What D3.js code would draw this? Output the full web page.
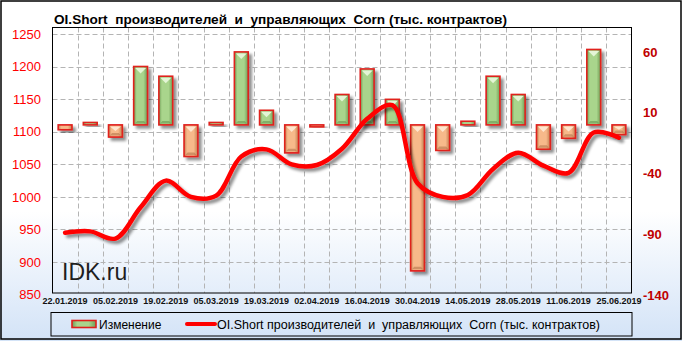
<!DOCTYPE html>
<html><head><meta charset="utf-8">
<script src="https://cdn.jsdelivr.net/npm/d3@7"></script>
<style>body{margin:0;padding:0;overflow:hidden;background:#fff}svg{display:block}</style>
</head><body>
<svg id="chart" width="682" height="341"></svg>
<script>
const dates = ["22.01.2019","29.01.2019","05.02.2019","12.02.2019","19.02.2019","26.02.2019","05.03.2019","12.03.2019","19.03.2019","26.03.2019","02.04.2019","09.04.2019","16.04.2019","23.04.2019","30.04.2019","07.05.2019","14.05.2019","21.05.2019","28.05.2019","04.06.2019","11.06.2019","18.06.2019","25.06.2019"];
const changeValues = [-4, 2, -10, 48, 40, -26, 2, 60, 12, -23, -1, 25, 46, 21, -120, -21, 3, 40, 25, -20, -11, 62, -8];
const oiShortValues = [945, 947, 936, 984, 1025, 1000, 1002, 1062, 1073, 1050, 1049, 1074, 1120, 1141, 1021, 1000, 1003, 1043, 1068, 1048, 1037, 1099, 1091];
const xTickLabels = ["22.01.2019","05.02.2019","19.02.2019","05.03.2019","19.03.2019","02.04.2019","16.04.2019","30.04.2019","14.05.2019","28.05.2019","11.06.2019","25.06.2019"];
const leftTicks = [850, 900, 950, 1000, 1050, 1100, 1150, 1200, 1250];
const rightTicks = [-140, -90, -40, 10, 60];
const titleText = "OI.Short  производителей  и  управляющих  Corn (тыс. контрактов)";
const legendBarText = "Изменение";
const legendLineText = "OI.Short производителей  и  управляющих  Corn (тыс. контрактов)";

const svg = d3.select("#chart");
const defs = svg.append("defs");

// background gradient
const bg = defs.append("linearGradient").attr("id","bg").attr("x1",0).attr("y1",0).attr("x2",0).attr("y2",1);
bg.append("stop").attr("offset","0%").attr("stop-color","#ffffff");
bg.append("stop").attr("offset","62%").attr("stop-color","#ffffff");
bg.append("stop").attr("offset","100%").attr("stop-color","#d3e3f7");
svg.append("rect").attr("x",0).attr("y",0).attr("width",682).attr("height",341).attr("fill","url(#bg)");
svg.append("rect").attr("x",1).attr("y",1).attr("width",680).attr("height",338)
  .attr("fill","none").attr("stroke","#000").attr("stroke-width",1.5);

// bar gradients
function hgrad(id, edge, mid){
  const g = defs.append("linearGradient").attr("id",id).attr("x1",0).attr("y1",0).attr("x2",1).attr("y2",0);
  g.append("stop").attr("offset","0%").attr("stop-color",edge);
  g.append("stop").attr("offset","22%").attr("stop-color",mid);
  g.append("stop").attr("offset","70%").attr("stop-color",mid);
  g.append("stop").attr("offset","100%").attr("stop-color",edge);
}
hgrad("gpos","#6f9c55","#a9d58c");
hgrad("gneg","#c27e50","#f7b98a");

const shadow = defs.append("filter").attr("id","shadow").attr("x","-50%").attr("y","-50%").attr("width","200%").attr("height","200%");
shadow.append("feGaussianBlur").attr("in","SourceAlpha").attr("stdDeviation",1.6).attr("result","b");
shadow.append("feOffset").attr("in","b").attr("dx",3).attr("dy",3).attr("result","o");
shadow.append("feComponentTransfer").attr("in","o").attr("result","oa")
  .append("feFuncA").attr("type","linear").attr("slope",0.45);
const fm = shadow.append("feMerge");
fm.append("feMergeNode").attr("in","oa");
fm.append("feMergeNode").attr("in","SourceGraphic");

const plot = {left:52.5, right:631.5, top:27.5, bottom:293};

const x = d3.scaleBand().domain(dates).range([plot.left, plot.right]).paddingInner(0.45).paddingOuter(0.225);
const step = x.step();
const yL = d3.scaleLinear().domain([850,1250]).range([294.5, 34.2]);
const yR = d3.scaleLinear().domain([-140,60]).range([295.2, 51.9]);

// gridlines
const grid = svg.append("g").attr("stroke","#b4b4b4").attr("stroke-dasharray","5,3").attr("stroke-width",1);
leftTicks.filter(t => t > 850).forEach(t => {
  grid.append("line").attr("x1",plot.left).attr("x2",plot.right)
    .attr("y1",Math.round(yL(t))+0.5).attr("y2",Math.round(yL(t))+0.5);
});
dates.slice(1).forEach(d => {
  const xx = Math.round(x(d) - (step - x.bandwidth())/2) + 0.5;
  grid.append("line").attr("x1",xx).attr("x2",xx).attr("y1",plot.top).attr("y2",plot.bottom);
});

// watermark
svg.append("text").attr("x",62).attr("y",280).attr("font-family","Liberation Sans, Arial, sans-serif")
  .attr("font-size",23).attr("fill","#1e1e1e").text("IDK.ru");

// bars
const barsG = svg.append("g");
changeValues.forEach((v,i) => {
  const bx = x(dates[i]), bw = x.bandwidth();
  const y0 = yR(0), y1 = yR(v);
  const top = Math.min(y0,y1), h = Math.max(Math.abs(y1-y0), 2);
  const g = barsG.append("g").attr("filter","url(#shadow)");
  g.append("rect").attr("x",bx).attr("y",top).attr("width",bw).attr("height",h)
    .attr("fill", v >= 0 ? "url(#gpos)" : "url(#gneg)")
    .attr("stroke","#e0201c").attr("stroke-width",1.6);
  if (h > 8) {
    const light = v >= 0 ? "#e4f5d6" : "#ffe6cf";
    const dark = v >= 0 ? "#5d8a45" : "#a86a40";
    g.append("path").attr("d", `M${bx+1.5},${top+1.5} L${bx+bw-1.5},${top+1.5} L${bx+bw/2},${top+Math.min(7,h/2)} Z`).attr("fill",light);
    g.append("path").attr("d", `M${bx+1.5},${top+h-1.5} L${bx+bw-1.5},${top+h-1.5} L${bx+bw-3.5},${top+h-4} L${bx+3.5},${top+h-4} Z`).attr("fill",dark).attr("opacity",0.5);
  }
});

// line
const line = d3.line().x((d,i) => x(dates[i]) + x.bandwidth()/2).y(d => yL(d)).curve(d3.curveCatmullRom.alpha(0.5));
svg.append("path").datum(oiShortValues).attr("d",line).attr("fill","none")
  .attr("stroke","#ff0000").attr("stroke-width",4.5).attr("stroke-linecap","round").attr("stroke-linejoin","round")
  .attr("filter","url(#shadow)");

// frame
svg.append("rect").attr("x",plot.left).attr("y",plot.top).attr("width",plot.right-plot.left).attr("height",plot.bottom-plot.top)
  .attr("fill","none").attr("stroke","#000").attr("stroke-width",1);

// left axis labels
svg.append("g").selectAll("text").data(leftTicks).join("text")
  .attr("x",41).attr("y",d => yL(d)).attr("dy","0.36em").attr("text-anchor","end")
  .attr("font-family","Liberation Sans, Arial, sans-serif").attr("font-size",13).attr("fill","#ff0000")
  .text(d => d);

// right axis labels
svg.append("g").selectAll("text").data(rightTicks).join("text")
  .attr("x",643).attr("y",d => yR(d)).attr("dy","0.36em").attr("text-anchor","start")
  .attr("font-family","Liberation Sans, Arial, sans-serif").attr("font-size",13).attr("font-weight","bold").attr("fill","#c00000")
  .text(d => d);

// x axis labels
svg.append("g").selectAll("text").data(xTickLabels).join("text")
  .attr("x",d => x(d) + x.bandwidth()/2).attr("y",304).attr("text-anchor","middle")
  .attr("font-family","Liberation Sans, Arial, sans-serif").attr("font-size",9).attr("font-weight","bold").attr("fill","#111")
  .text(d => d);

// title
svg.append("text").attr("x",54).attr("y",23.5).attr("font-family","Liberation Sans, Arial, sans-serif")
  .attr("font-size",13.5).attr("font-weight","bold").attr("fill","#000").style("white-space","pre")
  .attr("textLength",453).attr("lengthAdjust","spacingAndGlyphs").text(titleText);

// legend
const lg = svg.append("g");
lg.append("rect").attr("x",51).attr("y",312.5).attr("width",581).attr("height",23.5).attr("fill","none").attr("stroke","#000").attr("stroke-width",1);
lg.append("rect").attr("x",72).attr("y",320.5).attr("width",24).attr("height",7).attr("fill","url(#gpos)").attr("stroke","#e0201c").attr("stroke-width",1.6);
lg.append("text").attr("x",99).attr("y",329).attr("font-family","Liberation Sans, Arial, sans-serif").attr("font-size",12).attr("fill","#000").text(legendBarText);
lg.append("line").attr("x1",187).attr("x2",215).attr("y1",324).attr("y2",324).attr("stroke","#ff0000").attr("stroke-width",4).attr("stroke-linecap","round");
lg.append("text").attr("x",217).attr("y",329).attr("font-family","Liberation Sans, Arial, sans-serif").attr("font-size",12).attr("fill","#000")
  .style("white-space","pre").attr("textLength",383).attr("lengthAdjust","spacingAndGlyphs").text(legendLineText);
</script>
</body></html>
